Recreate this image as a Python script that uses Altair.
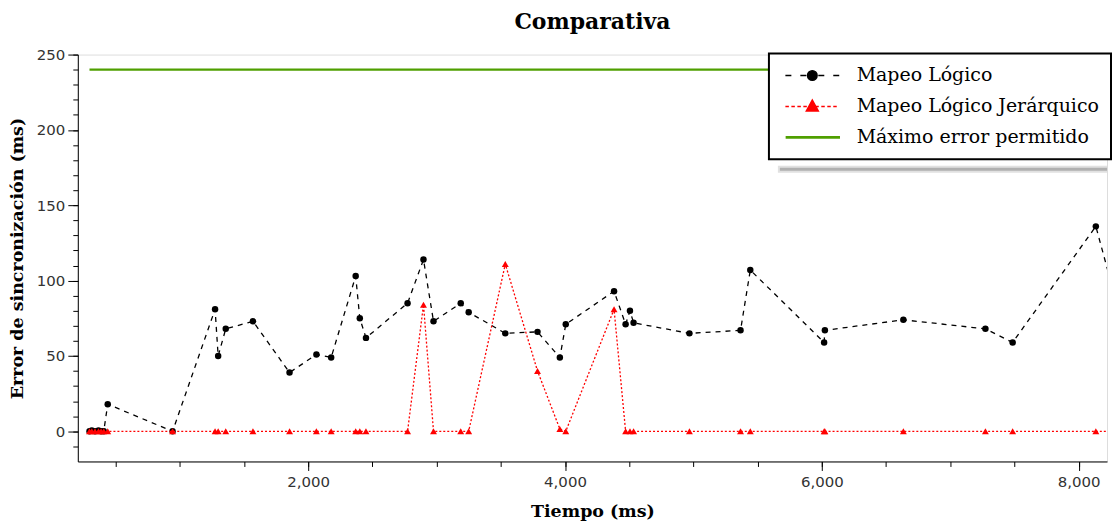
import altair as alt
import pandas as pd

# ---- data ----
tiempo = [297, 315, 340, 367, 387, 408, 439, 944, 1275, 1299, 1358, 1570, 1855,
          2064, 2179, 2370, 2402, 2450, 2774, 2898, 2976, 3188, 3250, 3535, 3786,
          3960, 4006, 4382, 4472, 4506, 4534, 4969, 5367, 5443, 6018, 6024, 6635,
          7274, 7486, 8134, 8258]
mapeo_logico = [0, 0.5, 0, 0.5, 0, 0, 18, 0, 81, 50, 68, 73, 39, 51, 49, 103, 75,
                62, 85, 114, 73, 85, 79, 65, 66, 49, 71, 93, 71, 80, 72, 65, 67,
                107, 59, 67, 74, 68, 59, 136, 97]
mapeo_jerarquico = [0, 0, 0, 0, 0, 0, 0, 0, 0, 0, 0, 0, 0, 0, 0, 0, 0, 0, 0, 84,
                    0, 0, 0, 111, 40, 1.5, 0, 81, 0, 0, 0, 0, 0, 0, 0, 0, 0, 0, 0,
                    0, 0]
max_error = 240
series = ["Mapeo Lógico", "Mapeo Lógico Jerárquico", "Máximo error permitido"]
colors = ["#000000", "#ff0000", "#4f9f00"]
x_major = [2000, 4000, 6000, 8000]
x_minor = list(range(500, 8001, 500))
y_major = [0, 50, 100, 150, 200, 250]
y_minor = list(range(-10, 251, 10))
x_domain = [206, 8221]
y_domain = [-20, 250]

rows = []
for t, a, b in zip(tiempo, mapeo_logico, mapeo_jerarquico):
    rows.append({"t": t, "v": a, "serie": series[0]})
    rows.append({"t": t, "v": b, "serie": series[1]})
rows.append({"t": tiempo[0], "v": max_error, "serie": series[2]})
rows.append({"t": tiempo[-1], "v": max_error, "serie": series[2]})
df = pd.DataFrame(rows)
df["i"] = range(len(df))

# legend-only entries (placed outside the x domain and clipped away)
legend_df = pd.DataFrame({"t": [x_domain[0] - 5000] * 3, "v": [0] * 3, "serie": series})

# ---- legend symbols as custom paths (px / 5 -> unit coordinates) ----
U = 5.0
X0 = -5.0


def seg(a, b):
    return f"M{(X0 + a) / U:.3f},0H{(X0 + b) / U:.3f}"


def circle(cx, r):
    c = (X0 + cx) / U
    rr = r / U
    return (f"M{c + rr:.3f},0A{rr:.3f},{rr:.3f} 0 1,1 {c - rr:.3f},0"
            f"A{rr:.3f},{rr:.3f} 0 1,1 {c + rr:.3f},0Z")


def triangle(cx, w, h):
    c = (X0 + cx) / U
    return (f"M{c:.3f},{-h * 0.58 / U:.3f}L{c + w / 2 / U:.3f},{h * 0.42 / U:.3f}"
            f"L{c - w / 2 / U:.3f},{h * 0.42 / U:.3f}Z")


path_black = "".join(seg(a, b) for a, b in [(0, 6), (15, 21), (23, 31), (33, 39), (48, 54)]) + circle(27, 4.8)
red_segs = []
p = 0.0
while p < 54:
    red_segs.append(seg(p, min(p + 3.5, 54)))
    p += 6
path_red = "".join(red_segs) + triangle(27, 12, 11)
gy = 0.6 / U
path_green = f"M{(X0 + 1) / U:.3f},{-gy:.3f}H{(X0 + 54) / U:.3f}V{gy:.3f}H{(X0 + 1) / U:.3f}Z"
paths = [path_black, path_red, path_green]

serif = "DejaVu Serif"
sans = "DejaVu Sans"

xscale = alt.Scale(domain=x_domain, nice=False, zero=False)
yscale = alt.Scale(domain=y_domain, nice=False, zero=False)

x_axis_major = alt.Axis(
    values=x_major, format=",.0f", tickSize=9, labelPadding=4, labelOverlap=False,
    labelFlush=False, labelFont=sans, labelFontSize=15, labelColor="#333333",
    tickColor="black", domainColor="black", grid=False, orient="bottom",
    title="Tiempo (ms)", titleFont=serif, titleFontSize=17.5, titleFontWeight="bold",
    titleColor="black", titlePadding=13,
)
x_axis_minor = alt.Axis(
    values=x_minor, tickSize=5, labels=False, domain=False, tickColor="black",
    grid=False, orient="bottom", title=None,
)
y_axis_major = alt.Axis(
    values=y_major, tickSize=10, labelPadding=3, labelOverlap=False,
    labelFlush=False, labelFont=sans, labelFontSize=15, labelColor="#333333",
    tickColor="black", domainColor="black", grid=False, orient="left",
    title="Error de sincronización (ms)", titleFont=serif, titleFontSize=17.5,
    titleFontWeight="bold", titleColor="black", titlePadding=10,
)
y_axis_minor = alt.Axis(
    values=y_minor, tickSize=5, labels=False, domain=False, tickColor="black",
    grid=False, orient="left", title=None,
)


def layer_base(data, xa=None, ya=None):
    return alt.Chart(data).encode(
        x=alt.X("t:Q", scale=xscale, axis=xa),
        y=alt.Y("v:Q", scale=yscale, axis=ya),
        order=alt.Order("i:Q"),
    )


green_line = layer_base(df, x_axis_major, y_axis_major).transform_filter(
    alt.datum.serie == series[2]).mark_line(color=colors[2], strokeWidth=2.2, clip=True)
black_line = layer_base(df, x_axis_minor, y_axis_minor).transform_filter(
    alt.datum.serie == series[0]).mark_line(
    color=colors[0], strokeWidth=1.3, strokeDash=[5, 5], clip=True)
black_pts = layer_base(df).transform_filter(alt.datum.serie == series[0]).mark_point(
    filled=True, shape="circle", size=42, color=colors[0], opacity=1, clip=True)
red_line = layer_base(df).transform_filter(alt.datum.serie == series[1]).mark_line(
    color=colors[1], strokeWidth=1.3, strokeDash=[2, 2], clip=True)
red_pts = layer_base(df).transform_filter(alt.datum.serie == series[1]).mark_point(
    filled=True, shape="triangle-up", size=48, color=colors[1], opacity=1, clip=True)

leg = alt.Legend(
    title=None, orient="none", legendX=693, legendY=-1, strokeColor="black",
    fillColor="white", padding=12, labelFont=serif, labelFontSize=19,
    labelColor="black", labelLimit=400, labelOffset=57, symbolSize=100,
    symbolStrokeWidth=1.5, clipHeight=20, rowPadding=11,
)
legend_layer = alt.Chart(legend_df).mark_point(
    size=100, opacity=1, clip=True, strokeWidth=1.5).encode(
    x=alt.X("t:Q", scale=xscale, axis=None),
    y=alt.Y("v:Q", scale=yscale, axis=None),
    shape=alt.Shape("serie:N", scale=alt.Scale(domain=series, range=paths), legend=leg),
    fill=alt.Fill("serie:N", scale=alt.Scale(domain=series, range=colors), legend=leg),
    stroke=alt.Stroke("serie:N", scale=alt.Scale(domain=series, range=colors), legend=leg),
)

shadow_src = alt.Chart(pd.DataFrame({"a": [0]}))
shadow1 = shadow_src.mark_rule(color="#888888", strokeWidth=7, opacity=0.25).encode(
    x=alt.value(702), x2=alt.value(1032), y=alt.value(115))
shadow2 = shadow_src.mark_rule(color="#888888", strokeWidth=3, opacity=0.55).encode(
    x=alt.value(704), x2=alt.value(1032), y=alt.value(115))

chart = alt.layer(
    green_line, black_line, black_pts, red_line, red_pts, legend_layer, shadow1, shadow2
).resolve_axis(x="independent", y="independent").properties(
    width=1032, height=408,
    title=alt.TitleParams("Comparativa", font=serif, fontSize=22, fontWeight="bold",
                          color="black", anchor="middle", offset=14),
    padding={"left": 0, "right": 0, "top": 2, "bottom": 0},
).configure_view(stroke=None).configure(background="white")

try:
    trial = chart.configure_legend(strokeWidth=2)
    trial.to_dict()
    chart = trial
except Exception:
    pass

chart.save("out.html", embed_options={"renderer": "svg", "actions": False})
